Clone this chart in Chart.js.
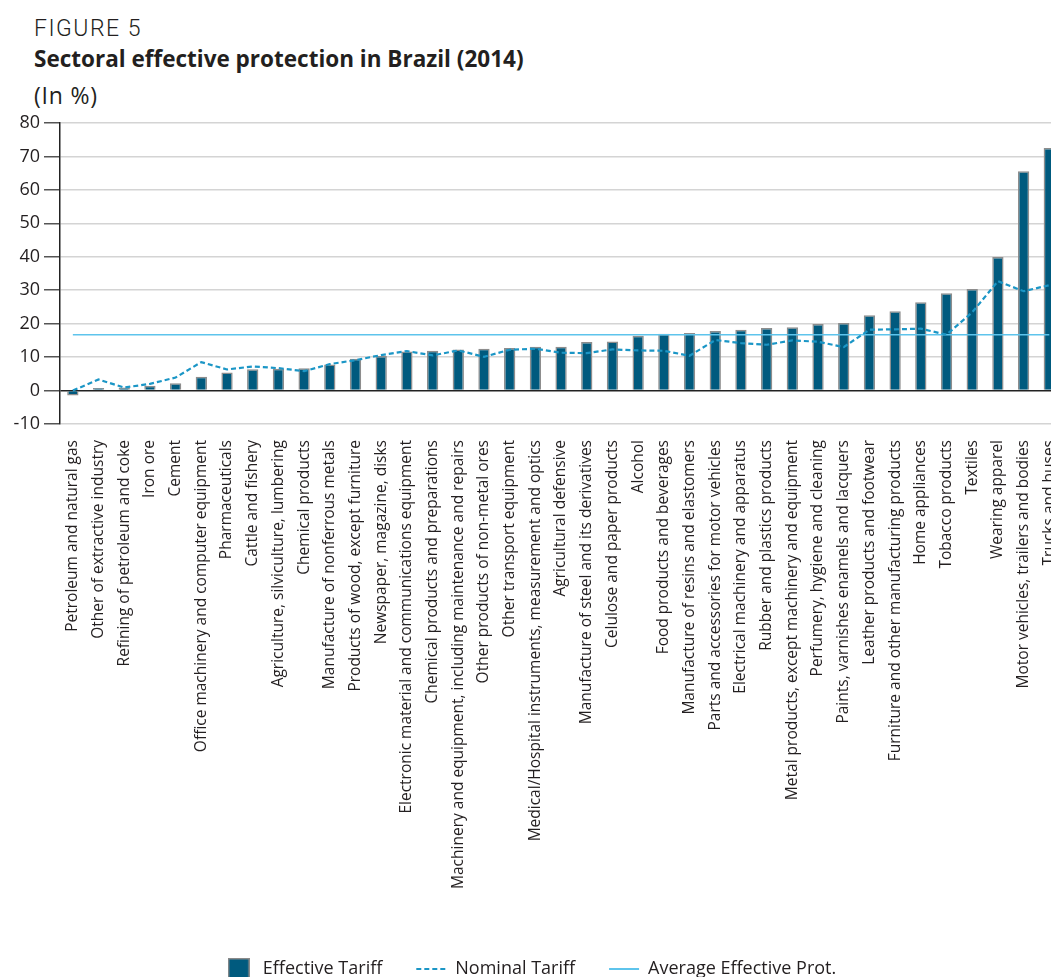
<!DOCTYPE html>
<html>
<head>
<meta charset="utf-8">
<script src="https://cdn.jsdelivr.net/npm/chart.js@4.4.0/dist/chart.umd.min.js"></script>
<style>
  html, body { margin: 0; padding: 0; overflow: hidden; background: #fff; width: 1051px; height: 977px; }
  .ttl { position: absolute; left: 34px; color: #231f20; white-space: nowrap; line-height: 1; }
  #fig { top: 17px; font-family: Roboto, sans-serif; font-weight: 300; font-size: 23px; letter-spacing: 1.5px; }
  #main { top: 48px; font-family: "Open Sans", sans-serif; font-weight: 700; font-size: 22.5px; }
  #unit { top: 84px; font-family: "Open Sans", sans-serif; font-size: 23px; letter-spacing: 0.8px; }
  #wrap { position: absolute; left: 0; top: 100px; width: 1076px; height: 888px; }
</style>
</head>
<body>
<div class="ttl" id="fig">FIGURE 5</div>
<div class="ttl" id="main">Sectoral effective protection in Brazil (2014)</div>
<div class="ttl" id="unit">(In %)</div>
<div id="wrap"><canvas id="chart"></canvas></div>
<script>
// data
const sectors = [
  'Petroleum and natural gas', 'Other of extractive industry', 'Refining of petroleum and coke',
  'Iron ore', 'Cement', 'Office machinery and computer equipment', 'Pharmaceuticals',
  'Cattle and fishery', 'Agriculture, silviculture, lumbering', 'Chemical products',
  'Manufacture of nonferrous metals', 'Products of wood, except furniture', 'Newspaper, magazine, disks',
  'Electronic material and communications equipment', 'Chemical products and preparations',
  'Machinery and equipment, including maintenance and repairs', 'Other products of non-metal ores',
  'Other transport equipment', 'Medical/Hospital instruments, measurement and optics',
  'Agricultural defensive', 'Manufacture of steel and its derivatives', 'Celulose and paper products',
  'Alcohol', 'Food products and beverages', 'Manufacture of resins and elastomers',
  'Parts and accessories for motor vehicles', 'Electrical machinery and apparatus',
  'Rubber and plastics products', 'Metal products, except machinery and equipment',
  'Perfumery, hygiene and cleaning', 'Paints, varnishes enamels and lacquers',
  'Leather products and footwear', 'Furniture and other manufacturing products', 'Home appliances',
  'Tobacco products', 'Textiles', 'Wearing apparel', 'Motor vehicles, trailers and bodies',
  'Trucks and buses'
];
const effectiveTariff = [-1.5, 0.8, 0.9, 1.4, 2.2, 4.1, 5.4, 6.4, 6.5, 6.7,
  7.8, 9.5, 10.3, 11.7, 11.9, 12.3, 12.5, 12.7, 13.1, 13.1,
  14.5, 14.7, 16.4, 17.0, 17.2, 17.8, 18.2, 18.7, 18.9, 19.9,
  20.2, 22.5, 23.7, 26.4, 29.1, 30.4, 39.9, 65.6, 72.5];
const nominalTariff = [0, 3.3, 0.9, 2.0, 3.9, 8.5, 6.3, 7.2, 6.7, 5.8,
  7.9, 9.1, 10.6, 11.8, 10.5, 12.0, 10.1, 12.2, 12.5, 11.3,
  11.2, 12.3, 12.0, 11.9, 10.4, 15.1, 14.2, 13.7, 15.0, 14.6,
  13.0, 18.2, 18.3, 18.5, 16.7, 23.4, 32.7, 29.7, 31.5];
const averageEffectiveProt = 16.7;
const yMin = -10, yMax = 80, yStep = 10;

const barColor = '#005a7e';
const nominalColor = '#1b96c6';
const avgColor = '#5ec4ec';
const nominalDash = [5, 3];
const txt = '#231f20';

// little square for the bar entry of the legend
const swatch = document.createElement('canvas');
swatch.width = 22; swatch.height = 22;
const sctx = swatch.getContext('2d');
sctx.fillStyle = barColor;
sctx.fillRect(0, 0, 22, 22);
sctx.strokeStyle = '#8a8a8a';
sctx.lineWidth = 1.5;
sctx.strokeRect(0.75, 0.75, 20.5, 20.5);

// move the legend so it sits where the original has it
const legendShift = {
  id: 'legendShift',
  afterLayout(chart) {
    const lg = chart.legend;
    const w = lg.right - lg.left;
    const c = 530;
    lg.left = c - w / 2;
    lg.right = c + w / 2;
  }
};

Chart.defaults.font.family = '"Open Sans", sans-serif';
Chart.defaults.color = txt;

const ctx = document.getElementById('chart').getContext('2d');
new Chart(ctx, {
  type: 'bar',
  data: {
    labels: sectors,
    datasets: [{
      label: 'Effective Tariff',
      data: effectiveTariff,
      backgroundColor: barColor,
      borderColor: '#8d8d8d',
      borderWidth: 1.5,
      barPercentage: 0.44,
      categoryPercentage: 1,
      order: 3
    }, {
      type: 'line',
      label: 'Nominal Tariff',
      data: nominalTariff,
      borderColor: nominalColor,
      borderWidth: 2.2,
      borderDash: nominalDash,
      pointRadius: 0,
      fill: false,
      order: 1
    }, {
      type: 'line',
      label: 'Average Effective Prot.',
      data: sectors.map(() => averageEffectiveProt),
      borderColor: avgColor,
      borderWidth: 1.5,
      pointRadius: 0,
      fill: false,
      order: 2
    }]
  },
  options: {
    responsive: true,
    maintainAspectRatio: false,
    animation: false,
    layout: { padding: { top: 23, right: 8, left: 0, bottom: 0 } },
    plugins: {
      tooltip: { enabled: false },
      legend: {
        position: 'bottom',
        labels: {
          usePointStyle: true,
          pointStyleWidth: 30,
          padding: 34,
          font: { size: 18 },
          color: txt,
          sort: (a, b) => a.datasetIndex - b.datasetIndex,
          generateLabels(chart) {
            const items = Chart.defaults.plugins.legend.labels.generateLabels(chart);
            items.forEach(it => {
              if (it.datasetIndex === 0) {
                it.pointStyle = swatch;
              } else {
                it.pointStyle = 'line';
                it.strokeStyle = it.datasetIndex === 1 ? nominalColor : avgColor;
                it.lineWidth = 2;
                it.lineDash = it.datasetIndex === 1 ? nominalDash : [];
              }
            });
            return items;
          }
        }
      }
    },
    scales: {
      x: {
        grid: { display: false },
        border: { display: false },
        ticks: {
          autoSkip: false,
          maxRotation: 90,
          minRotation: 90,
          padding: 8,
          font: { size: 15.5 },
          color: txt
        },
        afterFit(scale) { scale.height = 502; }
      },
      y: {
        min: yMin,
        max: yMax,
        ticks: { stepSize: yStep, padding: 4, font: { size: 18 }, color: txt },
        grid: {
          color: c => c.tick && c.tick.value === 0 ? '#222' : '#d4d4d4',
          lineWidth: 1.5,
          tickLength: 16,
          tickColor: '#555'
        },
        border: { color: '#222', width: 1.5 },
        afterFit(scale) { scale.width = 60; }
      }
    }
  },
  plugins: [legendShift]
});
</script>
</body>
</html>
